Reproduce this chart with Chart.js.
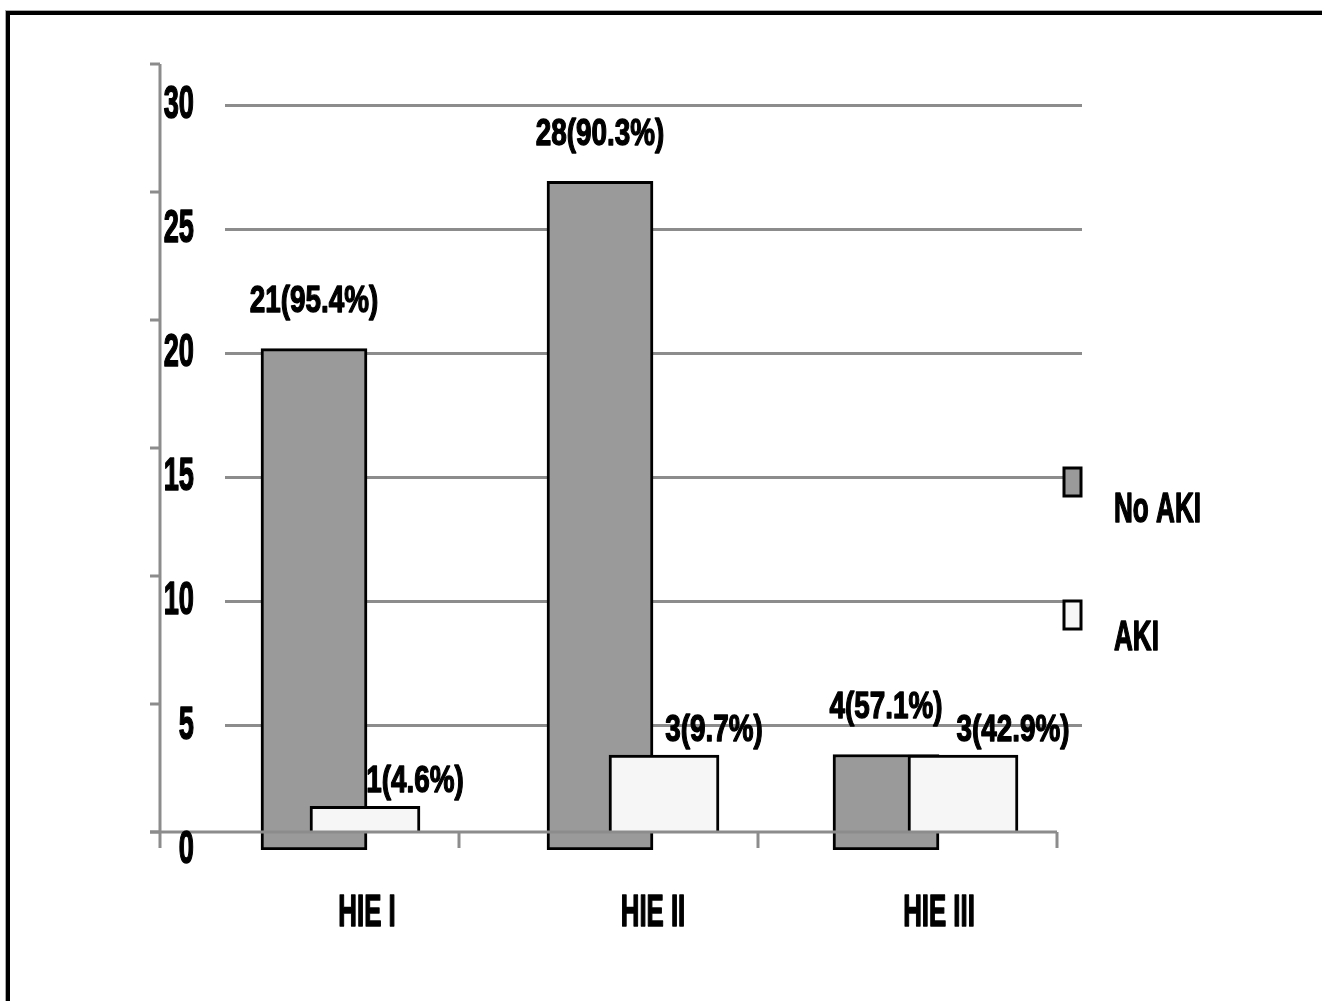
<!DOCTYPE html>
<html>
<head>
<meta charset="utf-8">
<script src="https://cdn.jsdelivr.net/npm/chart.js@4/dist/chart.umd.min.js"></script>
<style>
  html, body { margin: 0; padding: 0; background: #fff; overflow: hidden; }
  #frame { position: absolute; left: 6px; top: 11px; width: 1400px; height: 1100px;
           border-top: 4px solid #000; border-left: 4px solid #000;
           box-shadow: -1px -1px 0 #aaa; }
  #c { position: absolute; left: 0; top: 0; }
</style>
</head>
<body>
<div id="frame"></div>
<canvas id="c" width="1322" height="1001"></canvas>
<script>
// ---- data ----
const categories = ['HIE I', 'HIE II', 'HIE III'];
const seriesNames = ['No AKI', 'AKI'];
const noAki = [21, 28, 4];
const aki = [1, 3, 3];
const noAkiLabels = ['21(95.4%)', '28(90.3%)', '4(57.1%)'];
const akiLabels = ['1(4.6%)', '3(9.7%)', '3(42.9%)'];
const yTicks = [0, 5, 10, 15, 20, 25, 30];

// ---- style ----
const FONT = '"Liberation Sans", Arial, sans-serif';
const GRAY = '#9a9a9a';
const WHITE = '#f6f6f6';
const LINE = '#8c8c8c';

function stretchedText(ctx, text, x, y, size, sx, sy, align) {
  ctx.save();
  ctx.translate(x, y);
  ctx.scale(sx, sy);
  ctx.font = 'bold ' + size + 'px ' + FONT;
  ctx.fillStyle = '#000';
  ctx.strokeStyle = '#000';
  ctx.lineWidth = 1.1;
  ctx.lineJoin = 'round';
  ctx.textAlign = align;
  ctx.textBaseline = 'middle';
  ctx.fillText(text, 0, 0);
  ctx.strokeText(text, 0, 0);
  ctx.restore();
}

const decor = {
  id: 'decor',
  afterDatasetsDraw(chart) {
    const ctx = chart.ctx;
    const s = chart.scales;
    const xB = s.xB, yW = s.yW, y = s.y;
    const base = yW.getPixelForValue(0);
    const low = s.yG.getPixelForValue(0) - 2;
    ctx.save();
    ctx.strokeStyle = LINE;
    ctx.lineWidth = 3;
    // side (depth) axis
    const left = xB.getPixelForValue(0);
    ctx.beginPath();
    ctx.moveTo(left, yW.getPixelForValue(30));
    ctx.lineTo(left, low);
    ctx.stroke();
    yTicks.forEach(v => {
      const py = yW.getPixelForValue(v);
      ctx.beginPath();
      ctx.moveTo(left - 10, py);
      ctx.lineTo(left, py);
      ctx.stroke();
    });
    // floor axis
    const right = xB.getPixelForValue(categories.length);
    ctx.beginPath();
    ctx.moveTo(left - 10, base);
    ctx.lineTo(right, base);
    ctx.stroke();
    for (let k = 1; k <= categories.length; k++) {
      const px = xB.getPixelForValue(k);
      ctx.beginPath();
      ctx.moveTo(px, base);
      ctx.lineTo(px, low);
      ctx.stroke();
    }
    ctx.restore();

    // y tick labels
    yTicks.forEach(v => {
      stretchedText(ctx, String(v), chart.chartArea.left - 31, y.getPixelForValue(v), 32, 0.85, 1.44, 'right');
    });

    // data labels
    const mG = chart.getDatasetMeta(0);
    const mW = chart.getDatasetMeta(1);
    mG.data.forEach((el, i) => {
      stretchedText(ctx, noAkiLabels[i], el.x, el.y - 47, 30, 0.93, 1.26, 'center');
      // category labels
      stretchedText(ctx, categories[i], el.x + el.width / 2, s.yG.getPixelForValue(0) + 64, 30, 0.86, 1.49, 'center');
    });
    mW.data.forEach((el, i) => {
      stretchedText(ctx, akiLabels[i], el.x + 50, el.y - 25, 30, 0.93, 1.26, 'center');
    });

    // legend
    const lx = chart.chartArea.right - 18;
    const items = [
      { name: seriesNames[0], color: GRAY, cy: 482 },
      { name: seriesNames[1], color: WHITE, cy: 615 }
    ];
    items.forEach((it, i) => {
      ctx.save();
      ctx.fillStyle = it.color;
      ctx.strokeStyle = '#000';
      ctx.lineWidth = 3;
      ctx.fillRect(lx, it.cy - 14, 17, 28);
      ctx.strokeRect(lx, it.cy - 14, 17, 28);
      ctx.restore();
      stretchedText(ctx, it.name, lx + 50, it.cy + (i === 0 ? 28 : 23), 30, 0.87, 1.40, 'left');
    });
  }
};

const hiddenX = (min, max) => ({ type: 'linear', display: false, offset: false, grid: { offset: false }, min: min, max: max });

new Chart(document.getElementById('c'), {
  type: 'bar',
  data: {
    datasets: [
      {
        label: seriesNames[0],
        data: noAki.map((v, i) => ({ x: i, y: v })),
        xAxisID: 'xG', yAxisID: 'yG',
        backgroundColor: GRAY, borderColor: '#000', borderWidth: 3,
        borderSkipped: false, barThickness: 106, grouped: false, order: 2
      },
      {
        label: seriesNames[1],
        data: aki.map((v, i) => ({ x: i, y: v })),
        xAxisID: 'xW', yAxisID: 'yW',
        backgroundColor: WHITE, borderColor: '#000', borderWidth: 3,
        barThickness: 110, grouped: false, order: 1
      }
    ]
  },
  options: {
    responsive: false,
    animation: false,
    devicePixelRatio: 1,
    layout: { padding: { left: 225, right: 240, top: 105, bottom: 151 } },
    plugins: { legend: { display: false }, tooltip: { enabled: false } },
    scales: {
      y: {
        type: 'linear', position: 'left', min: 0, max: 30,
        ticks: { display: false, stepSize: 5 },
        grid: { color: c => (c.tick && c.tick.value === 0 ? 'rgba(0,0,0,0)' : LINE), lineWidth: 3, drawTicks: false },
        border: { display: false }
      },
      yG: { type: 'linear', display: false, min: 0, max: 31.2 },
      yW: { type: 'linear', display: false, min: -0.703, max: 28.399 },
      xG: hiddenX(-0.3112, 2.6853),
      xW: hiddenX(-0.4682, 2.398),
      xB: hiddenX(0.2174, 3.0836)
    }
  },
  plugins: [decor]
});
</script>
</body>
</html>
